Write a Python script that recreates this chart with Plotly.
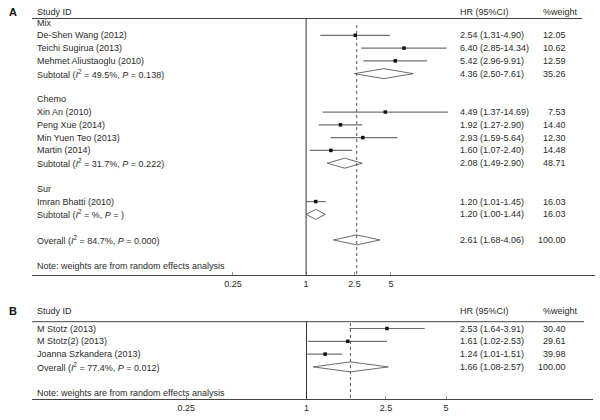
import math
import plotly.graph_objects as go

# ---------------- data: panel A ----------------
mix_names = ["De-Shen Wang (2012)", "Teichi Sugirua (2013)", "Mehmet Aliustaoglu (2010)"]
mix_hr = [2.54, 6.40, 5.42]
mix_lo = [1.31, 2.85, 2.96]
mix_hi = [4.90, 14.34, 9.91]
mix_w = [12.05, 10.62, 12.59]
mix_sub = [4.36, 2.50, 7.61, 35.26]
mix_het = ["49.5%", "0.138"]

chemo_names = ["Xin An (2010)", "Peng Xue (2014)", "Min Yuen Teo (2013)", "Martin (2014)"]
chemo_hr = [4.49, 1.92, 2.93, 1.60]
chemo_lo = [1.37, 1.27, 1.59, 1.07]
chemo_hi = [14.69, 2.90, 5.64, 2.40]
chemo_w = [7.53, 14.40, 12.30, 14.48]
chemo_sub = [2.08, 1.49, 2.90, 48.71]
chemo_het = ["31.7%", "0.222"]

sur_names = ["Imran Bhatti (2010)"]
sur_hr = [1.20]
sur_lo = [1.01]
sur_hi = [1.45]
sur_w = [16.03]
sur_sub = [1.20, 1.00, 1.44, 16.03]
sur_het = ["%", ""]

overall_A = [2.61, 1.68, 4.06, 100.00]
overall_A_het = ["84.7%", "0.000"]

# ---------------- data: panel B ----------------
b_names = ["M Stotz (2013)", "M Stotz(2) (2013)", "Joanna Szkandera (2013)"]
b_hr = [2.53, 1.61, 1.24]
b_lo = [1.64, 1.02, 1.01]
b_hi = [3.91, 2.53, 1.51]
b_w = [30.40, 29.61, 39.98]
overall_B = [1.66, 1.08, 2.57, 100.00]
overall_B_het = ["77.4%", "0.012"]

tick_vals = [0.25, 1, 2.5, 5]
tick_text = ["0.25", "1", "2.5", "5"]
note_text = "Note: weights are from random effects analysis"

FONT = "Liberation Sans"
TXT = "#2b2b2b"
FS = 9
W, H = 600, 420

fig = go.Figure()
ann = []
shapes = []


def het_label(prefix, het):
    return f"{prefix} (<i>I</i><sup>2</sup> = {het[0]}, <i>P</i> = {het[1]})"


def fmt_hr(h, l, u):
    return f"{h:.2f} ({l:.2f}-{u:.2f})"


def add_text(yref, k, label, hrtxt=None, wtxt=None):
    ann.append(dict(x=35 / W, xref="paper", y=k, yref=yref, text=label, showarrow=False,
                    xanchor="left", yanchor="middle", font=dict(size=FS, color=TXT, family=FONT)))
    if hrtxt is not None:
        ann.append(dict(x=458 / W, xref="paper", y=k, yref=yref, text=hrtxt, showarrow=False,
                        xanchor="left", yanchor="middle", font=dict(size=FS, color=TXT, family=FONT)))
    if wtxt is not None:
        ann.append(dict(x=568 / W, xref="paper", y=k, yref=yref, text=wtxt, showarrow=False,
                        xanchor="right", yanchor="middle", font=dict(size=FS, color=TXT, family=FONT)))


def build(xname, yname, groups, overall, overall_het, note_k):
    ci_x, ci_y, pt_x, pt_y, dx, dy = [], [], [], [], [], []
    yref = yname
    k = 0
    for g in groups:
        title, names, hr, lo, hi, w, sub, het = g
        if title is not None:
            add_text(yref, k, title)
            k += 1
        for n, h, l, u, ww in zip(names, hr, lo, hi, w):
            add_text(yref, k, n, fmt_hr(h, l, u), f"{ww:.2f}")
            ci_x += [l, u, None]
            ci_y += [k, k, None]
            pt_x.append(h)
            pt_y.append(k)
            k += 1
        if sub is not None:
            add_text(yref, k, het_label("Subtotal", het), fmt_hr(*sub[:3]), f"{sub[3]:.2f}")
            dx += [sub[1], sub[0], sub[2], sub[0], sub[1], None]
            dy += [k, k - 0.39, k, k + 0.39, k, None]
            k += 2
    add_text(yref, k, het_label("Overall", overall_het), fmt_hr(*overall[:3]), f"{overall[3]:.2f}")
    dx += [overall[1], overall[0], overall[2], overall[0], overall[1], None]
    dy += [k, k - 0.39, k, k + 0.39, k, None]
    add_text(yref, note_k, note_text)
    fig.add_trace(go.Scatter(x=ci_x, y=ci_y, mode="lines", xaxis=xname, yaxis=yname,
                             line=dict(color="#707070", width=1.2), hoverinfo="skip"))
    fig.add_trace(go.Scatter(x=dx, y=dy, mode="lines", xaxis=xname, yaxis=yname,
                             line=dict(color="#5a5a5a", width=0.9), hoverinfo="skip"))
    fig.add_trace(go.Scatter(x=pt_x, y=pt_y, mode="markers", xaxis=xname, yaxis=yname,
                             marker=dict(symbol="square", size=3.5, color="#111111"), hoverinfo="skip"))
    return overall[0]


groupsA = [
    ("Mix", mix_names, mix_hr, mix_lo, mix_hi, mix_w, mix_sub, mix_het),
    ("Chemo", chemo_names, chemo_hr, chemo_lo, chemo_hi, chemo_w, chemo_sub, chemo_het),
    ("Sur", sur_names, sur_hr, sur_lo, sur_hi, sur_w, sur_sub, sur_het),
]
ovA = build("x", "y", groupsA, overall_A, overall_A_het, 19)

groupsB = [(None, b_names, b_hr, b_lo, b_hi, b_w, None, None)]
ovB = build("x2", "y2", groupsB, overall_B, overall_B_het, 5)


# ---- geometry (pixel layout) ----
def py(p):
    return 1 - p / H


axA_y = 274.7
hdrA_line = 18.5
hdrA_text = 12
axB_y = 399
hdrB_line = 321.7
hdrB_text = 311

for lab, yp in (("A", hdrA_text), ("B", hdrB_text)):
    ann.append(dict(x=7 / W, xref="paper", y=py(yp), yref="paper", text=f"<b>{lab}</b>", showarrow=False,
                    xanchor="left", yanchor="middle", font=dict(size=11, color="#111", family="Liberation Sans")))
for yp in (hdrA_text, hdrB_text):
    for txt, xp, anc in (("Study ID", 35, "left"), ("HR (95%CI)", 458, "left"), ("%weight", 541, "left")):
        ann.append(dict(x=xp / W, xref="paper", y=py(yp), yref="paper", text=txt, showarrow=False,
                        xanchor=anc, yanchor="middle", font=dict(size=FS, color=TXT, family=FONT)))

# header lines
shapes.append(dict(type="line", xref="paper", yref="paper", x0=32 / W, x1=582 / W,
                   y0=py(hdrA_line), y1=py(hdrA_line), line=dict(color="#444", width=1)))
shapes.append(dict(type="line", xref="paper", yref="paper", x0=32 / W, x1=584 / W,
                   y0=py(hdrB_line), y1=py(hdrB_line), line=dict(color="#444", width=1)))
# null line at HR = 1
shapes.append(dict(type="line", xref="x", yref="paper", x0=1, x1=1,
                   y0=py(hdrA_line), y1=py(axA_y), line=dict(color="#333", width=1)))
shapes.append(dict(type="line", xref="x2", yref="paper", x0=1, x1=1,
                   y0=py(hdrB_line), y1=py(axB_y), line=dict(color="#333", width=1)))
# dashed overall line
shapes.append(dict(type="line", xref="x", yref="paper", x0=ovA, x1=ovA,
                   y0=py(25), y1=py(axA_y), line=dict(color="#555", width=1, dash="dot")))
shapes.append(dict(type="line", xref="x2", yref="paper", x0=ovB, x1=ovB,
                   y0=py(323), y1=py(axB_y), line=dict(color="#555", width=1, dash="dot")))


def log_range(p0, p1, p_one, px_per_ln):
    return [((p0 - p_one) / px_per_ln) / math.log(10), ((p1 - p_one) / px_per_ln) / math.log(10)]


rA = log_range(32, 595, 306.1, 52.74)
rB = log_range(32, 593, 306.5, 86.7)


def y_range(top_p, bot_p, y0, step):
    return [(bot_p - y0) / step, (top_p - y0) / step]


axis_common = dict(type="log", showgrid=False, zeroline=False, showline=True, linecolor="#444",
                   linewidth=1, ticks="inside", ticklen=3, tickcolor="#999", tickvals=tick_vals,
                   ticktext=tick_text, tickfont=dict(size=FS, color=TXT, family=FONT), fixedrange=True)

fig.update_layout(
    width=W, height=H, margin=dict(l=0, r=0, t=0, b=0),
    paper_bgcolor="white", plot_bgcolor="white", showlegend=False,
    xaxis=dict(domain=[32 / W, 595 / W], range=rA, anchor="y", **axis_common),
    yaxis=dict(domain=[py(axA_y), 1], range=y_range(0, axA_y, 22.5, 12.79), visible=False, fixedrange=True),
    xaxis2=dict(domain=[32 / W, 593 / W], range=rB, anchor="y2", **axis_common),
    yaxis2=dict(domain=[py(axB_y), py(300)], range=y_range(300, axB_y, 328.5, 12.8), visible=False, fixedrange=True),
    annotations=ann, shapes=shapes,
)

fig.write_html("out.html", config={"displayModeBar": False},
               post_script="document.body.style.margin='0';document.body.style.overflow='hidden';")
